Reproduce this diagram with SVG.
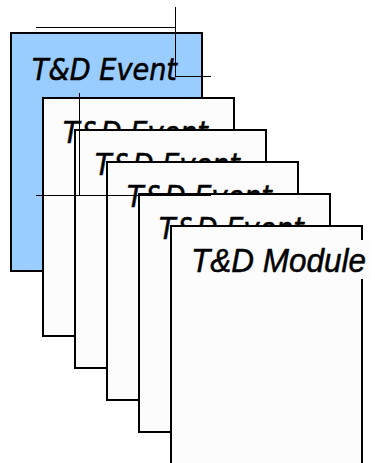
<svg xmlns="http://www.w3.org/2000/svg" width="375" height="463" viewBox="0 0 375 463">
  <style>
    .card { fill: #fcfcfc; stroke: #000; stroke-width: 2; }
    .card.first { fill: #99ccff; }
    .label { font-family: "DejaVu Sans", "Liberation Sans", sans-serif; font-style: italic; font-size: 31px; fill: #000; stroke: #000; stroke-width: 0.6; }
    .module { font-family: "Liberation Sans", Arial, sans-serif; font-style: italic; font-size: 33px; fill: #000; stroke: #000; stroke-width: 0.5; }
    .guide { stroke: #000; stroke-width: 1; fill: none; }
  </style>
  <rect width="375" height="463" fill="#fff"/>

  <g id="event1">
    <rect class="card first" x="11" y="33" width="191" height="238"/>
    <text class="label" x="32" y="80" textLength="145" lengthAdjust="spacingAndGlyphs">T&amp;D Event</text>
  </g>
  <g id="event2">
    <rect class="card" x="43" y="98" width="191" height="238"/>
    <text class="label" x="63" y="143" textLength="145" lengthAdjust="spacingAndGlyphs">T&amp;D Event</text>
  </g>
  <g id="event3">
    <rect class="card" x="75" y="130" width="191" height="238"/>
    <text class="label" x="95" y="175" textLength="145" lengthAdjust="spacingAndGlyphs">T&amp;D Event</text>
  </g>
  <g id="event4">
    <rect class="card" x="107" y="162" width="191" height="238"/>
    <text class="label" x="127" y="207" textLength="145" lengthAdjust="spacingAndGlyphs">T&amp;D Event</text>
  </g>
  <g id="event5">
    <rect class="card" x="139" y="194" width="191" height="238"/>
    <text class="label" x="159" y="239" textLength="145" lengthAdjust="spacingAndGlyphs">T&amp;D Event</text>
  </g>
  <g id="module">
    <rect class="card" x="171" y="226" width="191" height="240"/>
    <rect x="186" y="240" width="185" height="39" fill="#fcfcfc"/>
    <text class="module" x="191" y="272" textLength="175" lengthAdjust="spacingAndGlyphs">T&amp;D Module</text>
  </g>

  <g id="guides">
    <path class="guide" d="M36 27.5H175.5M175.5 7V76.5M175 76.5H211"/>
    <path class="guide" d="M79.5 93V195.5M36 195.5H211"/>
  </g>
</svg>
